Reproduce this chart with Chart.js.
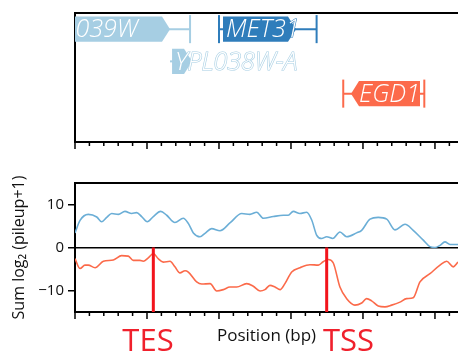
<!DOCTYPE html>
<html>
<head>
<meta charset="utf-8">
<script src="https://cdn.jsdelivr.net/npm/chart.js@4"></script>
<style>
  body { margin: 0; background: #fff; overflow: hidden; width: 458px; height: 352px; position: relative; }
  canvas { position: absolute; left: 0; }
  #genes { top: 0; }
  #signal { top: 160px; }
</style>
</head>
<body>
<canvas id="genes" width="458" height="160"></canvas>
<canvas id="signal" width="458" height="192"></canvas>
<script>
// x axis (bp)
const xMin = 0, xMax = 2660;
const tickStep = 100, majorStep = 500;

// gene track
const geneNames  = ['YPL039W', 'MET31', 'YPL038W-A', 'EGD1'];
const geneRow    = [0, 0, 1, 2];
const geneStrand = ['+', '+', '+', '-'];
const cdsStart   = [-285, 1028, 674, 1917];
const cdsEnd     = [660, 1535, 813, 2396];
const utrStart   = [-330, 1000, 660, 1863];
const utrEnd     = [799, 1678, 813, 2426];
const geneColors = ['#a6cee3', '#2f7dbb', '#a6cee3', '#fc6a4b'];

// summed signal
const plusX  = [0,35,92,151,185,220,255,301,347,394,428,463,502,544,595,637,694,752,787,822,868,903,949,1007,1076,1158,1215,1262,1308,1377,1447,1481,1516,1562,1609,1644,1678,1713,1748,1790,1840,1887,1956,1991,2049,2106,2165,2222,2292,2349,2419,2465,2500,2535,2569,2604,2660];
const plusY  = [3.4,6.3,7.7,7.1,6.0,7.0,7.9,7.7,8.4,7.9,8.1,7.2,6.0,7.2,8.4,7.5,5.8,6.8,5.6,3.4,2.5,3.3,4.4,3.9,5.7,7.9,7.7,8.2,6.8,7.2,7.5,7.5,8.4,7.9,8.2,6.4,2.9,2.1,2.5,2.1,3.6,2.5,3.4,4.0,6.6,7.0,6.6,4.1,5.4,4.0,1.7,0.2,0.0,0.5,1.3,0.7,0.7];
const minusX = [0,35,69,92,139,197,266,324,370,405,451,474,509,544,578,613,660,694,729,764,787,845,880,938,984,1030,1076,1123,1192,1238,1285,1319,1354,1389,1424,1458,1505,1563,1632,1690,1724,1759,1794,1840,1887,1944,1991,2025,2060,2106,2153,2199,2257,2303,2349,2396,2465,2535,2581,2627,2660];
const minusY = [-2.6,-4.9,-4.1,-4.1,-4.7,-3.2,-2.9,-1.9,-2.0,-3.0,-3.0,-3.2,-2.4,-1.4,-2.6,-3.4,-3.2,-4.5,-5.9,-5.4,-5.7,-8.0,-8.5,-8.4,-10.1,-9.8,-9.2,-9.2,-8.4,-9.0,-10.1,-9.8,-8.8,-9.2,-9.8,-8.4,-5.7,-4.7,-4.0,-4.1,-3.3,-2.8,-3.6,-9.2,-11.9,-13.4,-12.9,-11.9,-12.4,-13.6,-13.8,-13.4,-12.7,-11.9,-11.7,-8.0,-6.1,-4.1,-3.2,-4.5,-3.4];
const yTicks = [-10, 0, 10];

// TES / TSS markers
const markNames = ['TES', 'TSS'];
const markX = [544, 1748];
const markLabelX = [507, 1899];

const FONT = "'Open Sans', 'DejaVu Sans', sans-serif";

function xTicks(s) {
  s.ticks = [];
  for (let v = xMin; v <= xMax; v += tickStep) s.ticks.push({value: v});
}

// top border + bp tick marks under each panel
const framePlugin = {
  id: 'frame',
  afterDraw(chart) {
    const {ctx, chartArea: a} = chart;
    const x = chart.scales.x;
    ctx.save();
    ctx.strokeStyle = '#000';
    ctx.lineWidth = 2;
    ctx.beginPath();
    ctx.moveTo(a.left - 1, a.top);
    ctx.lineTo(a.right, a.top);
    ctx.stroke();
    ctx.lineWidth = 1.5;
    x.ticks.forEach(t => {
      const px = x.getPixelForValue(t.value);
      const len = t.value % majorStep === 0 ? 7 : 4;
      ctx.beginPath();
      ctx.moveTo(px, a.bottom);
      ctx.lineTo(px, a.bottom + len);
      ctx.stroke();
    });
    ctx.restore();
  }
};

const genePlugin = {
  id: 'genes',
  afterDatasetsDraw(chart) {
    const {ctx, chartArea: a, scales: {x, y}} = chart;
    const rowH = Math.abs(y.getPixelForValue(1) - y.getPixelForValue(0));
    const boxH = rowH * 0.78, capH = rowH * 0.87, arrow = 8;
    ctx.save();
    ctx.beginPath();
    ctx.rect(a.left, a.top, a.right - a.left, a.bottom - a.top);
    ctx.clip();
    geneNames.forEach((name, i) => {
      const cy = y.getPixelForValue(geneRow[i]);
      const c0 = x.getPixelForValue(cdsStart[i]), c1 = x.getPixelForValue(cdsEnd[i]);
      const u0 = x.getPixelForValue(utrStart[i]), u1 = x.getPixelForValue(utrEnd[i]);
      const col = geneColors[i];
      ctx.strokeStyle = col;
      ctx.fillStyle = col;
      ctx.lineWidth = 2;
      // whisker line
      ctx.beginPath();
      ctx.moveTo(u0, cy); ctx.lineTo(u1, cy);
      ctx.stroke();
      // caps
      [[u0, c0 - u0], [u1, u1 - c1]].forEach(([px, d]) => {
        if (d > 3) {
          ctx.beginPath();
          ctx.moveTo(px, cy - capH / 2); ctx.lineTo(px, cy + capH / 2);
          ctx.stroke();
        }
      });
      // box with arrow head
      const t = cy - boxH / 2, b = cy + boxH / 2;
      ctx.beginPath();
      if (geneStrand[i] === '+') {
        ctx.moveTo(c0, t); ctx.lineTo(c1 - arrow, t); ctx.lineTo(c1, cy);
        ctx.lineTo(c1 - arrow, b); ctx.lineTo(c0, b);
      } else {
        ctx.moveTo(c1, t); ctx.lineTo(c0 + arrow, t); ctx.lineTo(c0, cy);
        ctx.lineTo(c0 + arrow, b); ctx.lineTo(c1, b);
      }
      ctx.closePath();
      ctx.fill();
      // label
      ctx.font = 'italic 300 25px ' + FONT;
      ctx.textAlign = 'left';
      ctx.textBaseline = 'middle';
      const tx = geneStrand[i] === '+' ? c0 + 3 : c0 + arrow;
      ctx.lineWidth = 1.2;
      ctx.strokeText(name, tx, cy + 1);
      ctx.fillStyle = '#fff';
      ctx.fillText(name, tx, cy + 1);
    });
    ctx.restore();
  }
};

const markPlugin = {
  id: 'marks',
  afterDraw(chart) {
    const {ctx, chartArea: a, scales: {x}} = chart;
    ctx.save();
    ctx.textAlign = 'center';
    ctx.textBaseline = 'alphabetic';
    ctx.fillStyle = '#111';
    ctx.font = '17px ' + FONT;
    ctx.fillText('Position (bp)', (a.left + a.right) / 2, a.bottom + 29);
    ctx.fillStyle = '#f0202c';
    ctx.font = '31px ' + FONT;
    markNames.forEach((n, i) => {
      ctx.fillText(n, x.getPixelForValue(markLabelX[i]), a.bottom + 39);
    });
    ctx.restore();
  }
};

const xScale = {
  type: 'linear', min: xMin, max: xMax,
  afterBuildTicks: xTicks,
  afterFit: s => { s.height = 0; },
  ticks: {display: false},
  grid: {display: false},
  border: {display: true, color: '#000', width: 2}
};

new Chart(document.getElementById('genes'), {
  type: 'scatter',
  data: {datasets: [{data: []}]},
  options: {
    responsive: false, animation: false,
    layout: {padding: {top: 13, bottom: 18, left: 0, right: 0}},
    plugins: {legend: {display: false}, tooltip: {enabled: false}},
    scales: {
      x: xScale,
      y: {
        type: 'linear', min: -0.5, max: 3.5, reverse: true,
        afterFit: s => { s.width = 75; },
        ticks: {display: false},
        grid: {display: false},
        border: {display: true, color: '#000', width: 2}
      }
    }
  },
  plugins: [genePlugin, framePlugin]
});

const toPts = (xs, ys) => xs.map((v, i) => ({x: v, y: ys[i]}));
const markSets = markX.map(v => ({
  data: [{x: v, y: 0}, {x: v, y: -15}],
  borderColor: '#f2141c', borderWidth: 3, pointRadius: 0, showLine: true
}));

new Chart(document.getElementById('signal'), {
  type: 'scatter',
  data: {
    datasets: markSets.concat([
      {data: toPts(plusX, plusY), borderColor: '#6baed6', borderWidth: 1.6,
       pointRadius: 0, showLine: true, cubicInterpolationMode: 'monotone'},
      {data: toPts(minusX, minusY), borderColor: '#fb6a4a', borderWidth: 1.6,
       pointRadius: 0, showLine: true, cubicInterpolationMode: 'monotone'}
    ])
  },
  options: {
    responsive: false, animation: false,
    layout: {padding: {top: 23, bottom: 40, left: 0, right: 0}},
    plugins: {legend: {display: false}, tooltip: {enabled: false}},
    scales: {
      x: xScale,
      y: {
        type: 'linear', min: -15, max: 15,
        afterBuildTicks: s => { s.ticks = yTicks.map(v => ({value: v})); },
        afterFit: s => { s.width = 75; },
        ticks: {color: '#111', font: {family: FONT, size: 15}, padding: 4,
                callback: v => v < 0 ? '\u2212' + Math.abs(v) : String(v)},
        grid: {
          color: c => c.tick && c.tick.value === 0 ? '#000' : 'rgba(0,0,0,0)',
          lineWidth: 1.5, tickColor: '#000', tickLength: 7, tickWidth: 1.5
        },
        border: {display: true, color: '#000', width: 2},
        title: {display: true, text: 'Sum log\u2082 (pileup+1)', color: '#111',
                font: {family: FONT, size: 16}, padding: {top: 10}}
      }
    }
  },
  plugins: [framePlugin, markPlugin]
});
</script>
</body>
</html>
